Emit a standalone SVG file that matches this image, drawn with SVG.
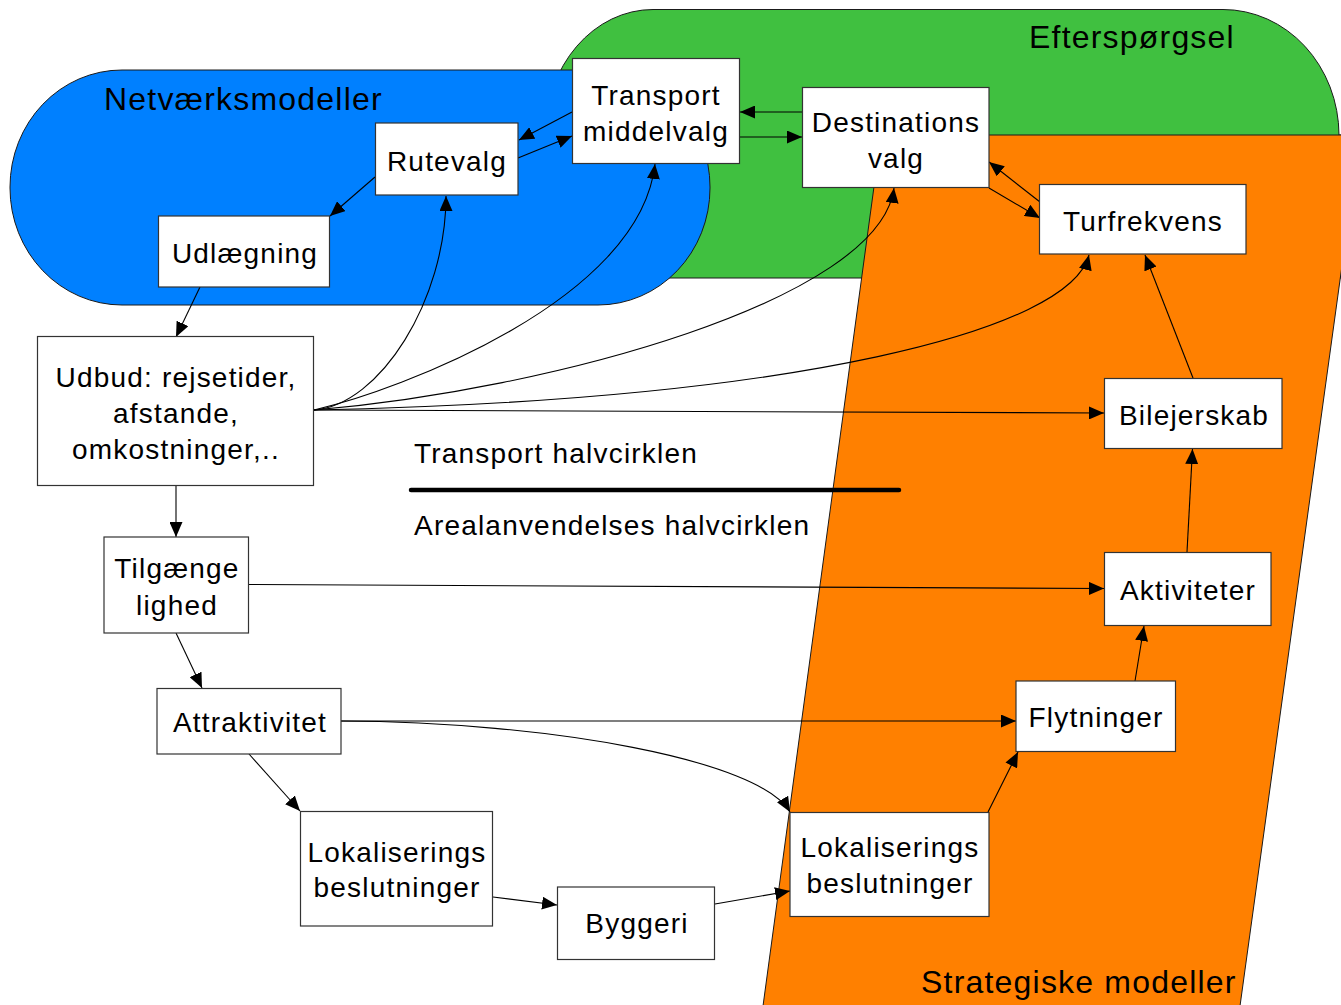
<svg xmlns="http://www.w3.org/2000/svg" width="1341" height="1005" viewBox="0 0 1341 1005">
<style>
.bg{fill:#fff}
.area{stroke:#1a1a1a;stroke-width:1}
.box{fill:#fff;stroke:#333;stroke-width:1.2}
text{font-family:"Liberation Sans",Arial,sans-serif;fill:#000;letter-spacing:1.2px}
.t{font-size:28px;text-anchor:middle}
.lbl{font-size:32px}
.mid{font-size:28px}
.c{fill:none;stroke:#000;stroke-width:1.1;marker-end:url(#ah)}
</style>
<defs>
<marker id="ah" viewBox="0 0 15 13" refX="15" refY="6.5" markerWidth="15" markerHeight="13" orient="auto" markerUnits="userSpaceOnUse">
<path d="M0,0 L15,6.5 L0,13 Z" fill="#000"/>
</marker>
</defs>
<rect class="bg" x="0" y="0" width="1341" height="1005"/>

<g id="areas">
<path id="efterspoergsel-area" class="area" fill="#40c040" d="M545,278 L545,135 A108,126 0 0 1 653,9.5 L1223,9.5 A116,126 0 0 1 1339,135 L1345,135 L1345,278 Z"/>
<rect id="netvaerk-area" class="area" fill="#0080ff" x="10" y="70" width="700" height="235" rx="112" ry="117"/>
<path id="strategiske-area" class="area" fill="#ff8000" d="M881,135 L1360,135 L1240,1006 L763,1006 Z"/>
</g>

<g id="area-labels">
<text class="lbl" x="104" y="110">Netværksmodeller</text>
<text class="lbl" x="1029" y="48">Efterspørgsel</text>
<text class="lbl" x="921" y="993">Strategiske modeller</text>
<text class="mid" x="414" y="463">Transport halvcirklen</text>
<text class="mid" x="414" y="535">Arealanvendelses halvcirklen</text>
<line x1="411" y1="490" x2="899" y2="490" stroke="#000" stroke-width="4.5" stroke-linecap="round"/>
</g>

<g id="connectors">
<path class="c" d="M572,112 L519,140"/>
<path class="c" d="M518,158 L572,136"/>
<path class="c" d="M802,112 L740,112"/>
<path class="c" d="M740,137 L802,137"/>
<path class="c" d="M1040,202 L989,162"/>
<path class="c" d="M989,188 L1040,218"/>
<path class="c" d="M375,177 L330,216"/>
<path class="c" d="M200,287 L176,337"/>
<path class="c" d="M314,410 C380,405 446,300 446,196"/>
<path class="c" d="M314,410 C400,390 640,300 655,164"/>
<path class="c" d="M314,410 C550,390 880,300 894,188"/>
<path class="c" d="M314,410 C800,400 1070,330 1089,255"/>
<path class="c" d="M314,410 L1104,413"/>
<path class="c" d="M1193,378 L1145,255"/>
<path class="c" d="M1187,552 L1192.5,449"/>
<path class="c" d="M1135,681 L1144,626"/>
<path class="c" d="M988,812 L1018,752"/>
<path class="c" d="M715,904 L790,891"/>
<path class="c" d="M493,897 L557,905"/>
<path class="c" d="M249,754 L300,811"/>
<path class="c" d="M176,633 L202,688"/>
<path class="c" d="M176,486 L176,537"/>
<path class="c" d="M248,584.5 L1104,588.5"/>
<path class="c" d="M341,721 L1016,721"/>
<path class="c" d="M341,721 C550,722 760,760 790,812"/>
</g>

<g id="transport-middelvalg"><rect class="box" x="572.5" y="58.5" width="167" height="105"/><text class="t" x="656" y="105">Transport</text><text class="t" x="656" y="141">middelvalg</text></g>
<g id="destinations-valg"><rect class="box" x="802.5" y="87.5" width="186.5" height="100"/><text class="t" x="896" y="132">Destinations</text><text class="t" x="896" y="168">valg</text></g>
<g id="rutevalg"><rect class="box" x="375.5" y="123" width="142.5" height="72"/><text class="t" x="447" y="171">Rutevalg</text></g>
<g id="udlaegning"><rect class="box" x="158.5" y="216" width="171" height="71"/><text class="t" x="245" y="263">Udlægning</text></g>
<g id="turfrekvens"><rect class="box" x="1039.5" y="184.5" width="206.5" height="69.5"/><text class="t" x="1143" y="231">Turfrekvens</text></g>
<g id="udbud"><rect class="box" x="37.5" y="336.5" width="276" height="149"/><text class="t" x="176" y="387">Udbud: rejsetider,</text><text class="t" x="176" y="423">afstande,</text><text class="t" x="176" y="459">omkostninger,..</text></g>
<g id="bilejerskab"><rect class="box" x="1104.5" y="378.5" width="177.5" height="70"/><text class="t" x="1194" y="425">Bilejerskab</text></g>
<g id="tilgaengelighed"><rect class="box" x="104" y="537" width="144.5" height="96"/><text class="t" x="177" y="578">Tilgænge</text><text class="t" x="177" y="615">lighed</text></g>
<g id="aktiviteter"><rect class="box" x="1104.5" y="552.5" width="166.5" height="73"/><text class="t" x="1188" y="600">Aktiviteter</text></g>
<g id="attraktivitet"><rect class="box" x="157" y="688.5" width="184" height="65.5"/><text class="t" x="250" y="732">Attraktivitet</text></g>
<g id="flytninger"><rect class="box" x="1016" y="681" width="159.5" height="70.5"/><text class="t" x="1096" y="727">Flytninger</text></g>
<g id="lokaliserings-venstre"><rect class="box" x="300.5" y="811.5" width="192" height="114.5"/><text class="t" x="397" y="862">Lokaliserings</text><text class="t" x="397" y="897">beslutninger</text></g>
<g id="byggeri"><rect class="box" x="557.5" y="887" width="157" height="72.5"/><text class="t" x="637" y="933">Byggeri</text></g>
<g id="lokaliserings-hoejre"><rect class="box" x="790" y="812.5" width="199" height="104"/><text class="t" x="890" y="857">Lokaliserings</text><text class="t" x="890" y="893">beslutninger</text></g>
</svg>
